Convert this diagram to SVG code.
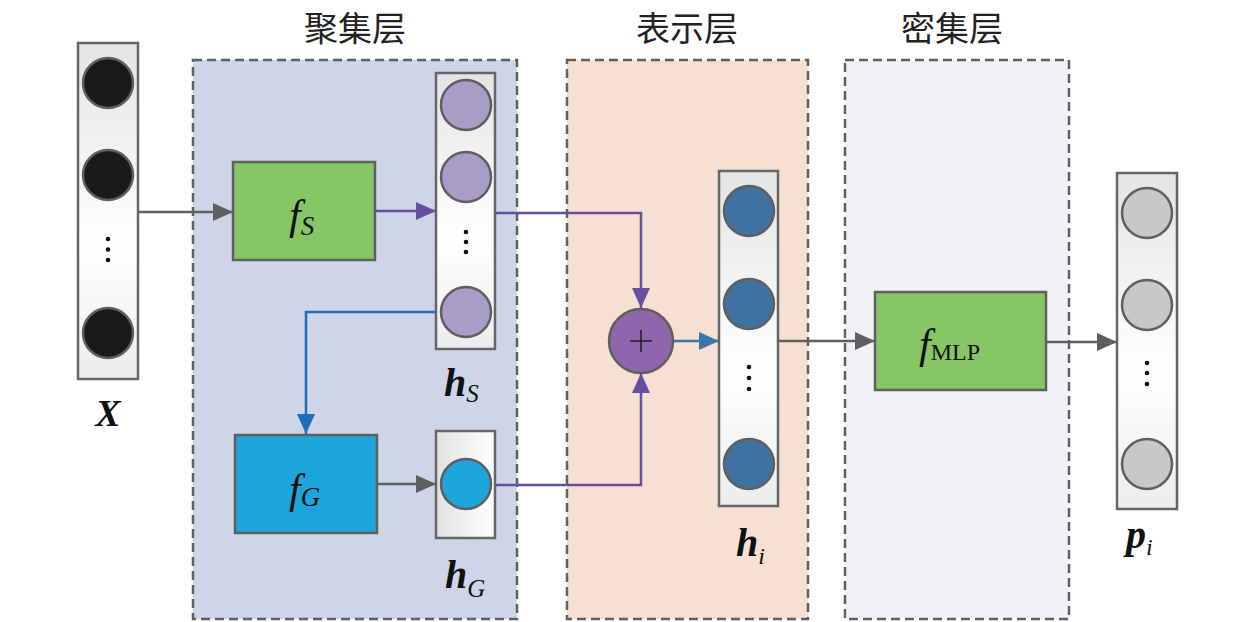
<svg xmlns="http://www.w3.org/2000/svg" width="1259" height="622" viewBox="0 0 1259 622">
<style>
.panel{stroke:#606060;stroke-width:2.5;stroke-dasharray:9,5}
.col{fill:url(#colg);stroke:#666;stroke-width:2.5}
.box{stroke:#5f5f5f;stroke-width:2.5}
.node{stroke:#5f5f5f;stroke-width:2.5}
.title{font-family:"Noto Sans CJK SC",sans-serif;font-size:34px;fill:#222;text-anchor:middle}
.math{font-family:"Liberation Serif",serif;font-style:italic;fill:#111}
.c{fill:none;stroke-width:2.5}
.dot{fill:#111}
</style>
<defs>
<linearGradient id="colg" x1="0" y1="0" x2="0" y2="1">
<stop offset="0" stop-color="#e4e4e4"/>
<stop offset="0.6" stop-color="#ffffff"/>
<stop offset="1" stop-color="#ececec"/>
</linearGradient>
<linearGradient id="colh" x1="0" y1="0" x2="1" y2="0">
<stop offset="0" stop-color="#e2e2e2"/>
<stop offset="1" stop-color="#ffffff"/>
</linearGradient>
<marker id="ag" viewBox="0 0 20 18" refX="20" refY="9" markerWidth="20" markerHeight="18" markerUnits="userSpaceOnUse" orient="auto"><path d="M0,0 L20,9 L0,18 z" fill="#5f5f5f"/></marker>
<marker id="ap" viewBox="0 0 20 18" refX="20" refY="9" markerWidth="20" markerHeight="18" markerUnits="userSpaceOnUse" orient="auto"><path d="M0,0 L20,9 L0,18 z" fill="#654f9e"/></marker>
<marker id="ab" viewBox="0 0 20 18" refX="20" refY="9" markerWidth="20" markerHeight="18" markerUnits="userSpaceOnUse" orient="auto"><path d="M0,0 L20,9 L0,18 z" fill="#1f6dbb"/></marker>
<marker id="at" viewBox="0 0 20 18" refX="20" refY="9" markerWidth="20" markerHeight="18" markerUnits="userSpaceOnUse" orient="auto"><path d="M0,0 L20,9 L0,18 z" fill="#3a78a8"/></marker>
</defs>
<rect width="1259" height="622" fill="#ffffff"/>

<g id="panel-aggregation">
<rect class="panel" x="193" y="60" width="324" height="559" fill="#cfd5e8"/>
<text class="title" x="355" y="41">聚集层</text>
</g>
<g id="panel-representation">
<rect class="panel" x="567" y="60" width="241" height="559" fill="#f6e0d3"/>
<text class="title" x="687" y="41">表示层</text>
</g>
<g id="panel-dense">
<rect class="panel" x="845" y="60" width="224" height="559" fill="#f1f2f5"/>
<text class="title" x="952" y="41">密集层</text>
</g>

<g id="connectors">
<path class="c" d="M138,212 H233" stroke="#5f5f5f" marker-end="url(#ag)"/>
<path class="c" d="M375,211 H436" stroke="#654f9e" marker-end="url(#ap)"/>
<path class="c" d="M495,213 H641 V308" stroke="#654f9e" marker-end="url(#ap)"/>
<path class="c" d="M436,312 H306 V434" stroke="#1f6dbb" marker-end="url(#ab)"/>
<path class="c" d="M377,484 H436" stroke="#5f5f5f" marker-end="url(#ag)"/>
<path class="c" d="M495,485 H641 V373" stroke="#654f9e" marker-end="url(#ap)"/>
<path class="c" d="M673,341 H719" stroke="#3a78a8" marker-end="url(#at)"/>
<path class="c" d="M778,341 H875" stroke="#5f5f5f" marker-end="url(#ag)"/>
<path class="c" d="M1046,342 H1117" stroke="#5f5f5f" marker-end="url(#ag)"/>
</g>

<g id="node-X">
<rect class="col" x="78" y="43" width="60" height="336"/>
<circle class="node" cx="108" cy="83" r="25" fill="#1a1a1a"/>
<circle class="node" cx="108" cy="175" r="25" fill="#1a1a1a"/>
<circle class="node" cx="108" cy="333" r="25" fill="#1a1a1a"/>
<circle class="dot" cx="108" cy="239" r="2.3"/>
<circle class="dot" cx="108" cy="249.5" r="2.3"/>
<circle class="dot" cx="108" cy="260" r="2.3"/>
<text class="math" x="108" y="426" font-size="38" font-weight="bold" text-anchor="middle">X</text>
</g>

<g id="node-fS">
<rect class="box" x="233" y="162" width="142" height="98" fill="#86c664"/>
<text class="math" x="289" y="229" font-size="42">f<tspan font-size="27" dy="6">S</tspan></text>
</g>

<g id="node-hS">
<rect class="col" x="436" y="73" width="59" height="276"/>
<circle class="node" cx="466" cy="105" r="25" fill="#a79dc6"/>
<circle class="node" cx="466" cy="177" r="25" fill="#a79dc6"/>
<circle class="node" cx="466" cy="312" r="25" fill="#a79dc6"/>
<circle class="dot" cx="466" cy="232" r="2.3"/>
<circle class="dot" cx="466" cy="242" r="2.3"/>
<circle class="dot" cx="466" cy="252" r="2.3"/>
<text class="math" x="444" y="396" font-size="40" font-weight="bold">h<tspan font-size="25" font-weight="normal" dy="6">S</tspan></text>
</g>

<g id="node-fG">
<rect class="box" x="235" y="435" width="142" height="98" fill="#1ca6dc"/>
<text class="math" x="289" y="503" font-size="42">f<tspan font-size="27" dy="3">G</tspan></text>
</g>

<g id="node-hG">
<rect x="436" y="431" width="59" height="107" fill="url(#colh)" stroke="#666" stroke-width="2.5"/>
<circle class="node" cx="466" cy="484" r="25" fill="#1ca6dc"/>
<text class="math" x="445" y="588" font-size="40" font-weight="bold">h<tspan font-size="25" font-weight="normal" dy="9">G</tspan></text>
</g>

<g id="node-plus">
<circle class="node" cx="641" cy="341" r="32" fill="#8f66ac"/>
<path d="M630,341 H652 M641,330 V352" stroke="#222" stroke-width="1.6"/>
</g>

<g id="node-hi">
<rect class="col" x="719" y="171" width="59" height="335"/>
<circle class="node" cx="749" cy="211" r="25" fill="#41729f"/>
<circle class="node" cx="749" cy="304" r="25" fill="#41729f"/>
<circle class="node" cx="749" cy="464" r="25" fill="#41729f"/>
<circle class="dot" cx="749" cy="367" r="2.3"/>
<circle class="dot" cx="749" cy="378" r="2.3"/>
<circle class="dot" cx="749" cy="389" r="2.3"/>
<text class="math" x="736" y="556" font-size="40" font-weight="bold">h<tspan font-size="24" font-weight="normal" dy="8">i</tspan></text>
</g>

<g id="node-fMLP">
<rect class="box" x="875" y="292" width="171" height="98" fill="#86c664"/>
<text class="math" x="919" y="358" font-size="42">f<tspan font-style="normal" font-size="24" dy="2">MLP</tspan></text>
</g>

<g id="node-pi">
<rect class="col" x="1117" y="173" width="60" height="336"/>
<circle class="node" cx="1147" cy="213" r="25" fill="#c8c8c8"/>
<circle class="node" cx="1147" cy="305" r="25" fill="#c8c8c8"/>
<circle class="node" cx="1147" cy="464" r="25" fill="#c8c8c8"/>
<circle class="dot" cx="1147" cy="363" r="2.3"/>
<circle class="dot" cx="1147" cy="373" r="2.3"/>
<circle class="dot" cx="1147" cy="384" r="2.3"/>
<text class="math" x="1126" y="548" font-size="40" font-weight="bold">p<tspan font-size="24" font-weight="normal" dy="7">i</tspan></text>
</g>
</svg>
